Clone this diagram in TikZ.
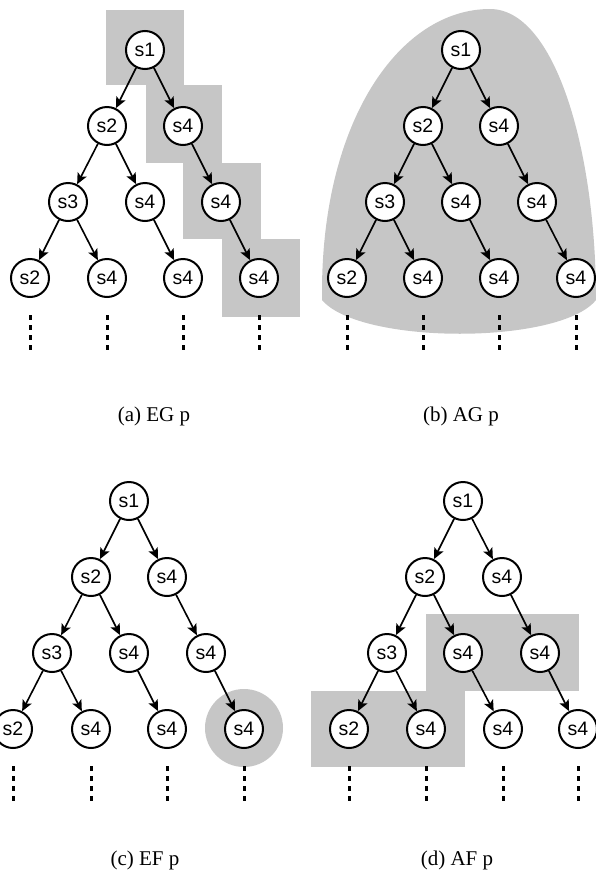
\documentclass[tikz,border=0pt]{standalone}
\usepackage{fontspec}
\setmainfont{Liberation Serif}
\newfontfamily\statefont{Liberation Sans}
\usepackage{tikz}
\usetikzlibrary{arrows.meta}
\definecolor{hilite}{HTML}{C6C6C6}

\begin{document}
\begin{tikzpicture}[x=1pt, y=-1pt, every node/.style={font=\statefont\fontsize{19.5}{19.5}\selectfont},
  state/.style={circle,draw,line width=2pt,fill=white,minimum size=38pt,inner sep=0pt},
  arr/.style={-{Stealth[length=11pt,width=10pt,inset=2.5pt]},line width=1.6pt},
  more/.style={line width=3pt,dash pattern=on 5pt off 5pt},
  region/.style={fill=hilite},
  caption/.style={font=\rmfamily\fontsize{21}{25}\selectfont,anchor=base}]
  \useasboundingbox (0,0) rectangle (596,873);
  % highlighted paths
  \fill[region] (106,10) rectangle (184,85);
  \fill[region] (146,85) rectangle (222,163);
  \fill[region] (183,163) rectangle (261,239);
  \fill[region] (222,239) rectangle (300,317);
  \fill[region] (322,292) .. controls (322,120) and (400,9) .. (490,9)
    .. controls (555,9) and (596,150) .. (596,300)
    .. controls (560,345) and (360,345) .. (322,300) -- cycle;
  \fill[region] (244,728) circle[radius=39pt];
  \fill[region] (426,614) rectangle (579,691);
  \fill[region] (311,691) rectangle (465,767);
  % (a)
  \node[state] (a1) at (145,50) {s1};
  \node[state] (a2) at (107,126) {s2};
  \node[state] (a3) at (183,126) {s4};
  \node[state] (a4) at (68,202) {s3};
  \node[state] (a5) at (145,202) {s4};
  \node[state] (a6) at (221,202) {s4};
  \node[state] (a7) at (30,278) {s2};
  \node[state] (a8) at (107,278) {s4};
  \node[state] (a9) at (183,278) {s4};
  \node[state] (a10) at (259,278) {s4};
  \draw[arr] (a1)--(a2); \draw[arr] (a1)--(a3);
  \draw[arr] (a2)--(a4); \draw[arr] (a2)--(a5); \draw[arr] (a3)--(a6);
  \draw[arr] (a4)--(a7); \draw[arr] (a4)--(a8);
  \draw[arr] (a5)--(a9); \draw[arr] (a6)--(a10);
  \draw[more] (a7.center) ++(0,37) -- ++(0,35);
  \draw[more] (a8.center) ++(0,37) -- ++(0,35);
  \draw[more] (a9.center) ++(0,37) -- ++(0,35);
  \draw[more] (a10.center) ++(0,37) -- ++(0,35);
  \node[caption] (capa) at (154,421) {(a) EG p};
  % (b)
  \node[state] (b1) at (461,50) {s1};
  \node[state] (b2) at (423,126) {s2};
  \node[state] (b3) at (499,126) {s4};
  \node[state] (b4) at (385,202) {s3};
  \node[state] (b5) at (461,202) {s4};
  \node[state] (b6) at (537,202) {s4};
  \node[state] (b7) at (347,278) {s2};
  \node[state] (b8) at (423,278) {s4};
  \node[state] (b9) at (499,278) {s4};
  \node[state] (b10) at (576,278) {s4};
  \draw[arr] (b1)--(b2); \draw[arr] (b1)--(b3);
  \draw[arr] (b2)--(b4); \draw[arr] (b2)--(b5); \draw[arr] (b3)--(b6);
  \draw[arr] (b4)--(b7); \draw[arr] (b4)--(b8);
  \draw[arr] (b5)--(b9); \draw[arr] (b6)--(b10);
  \draw[more] (b7.center) ++(0,37) -- ++(0,35);
  \draw[more] (b8.center) ++(0,37) -- ++(0,35);
  \draw[more] (b9.center) ++(0,37) -- ++(0,35);
  \draw[more] (b10.center) ++(0,37) -- ++(0,35);
  \node[caption] (capb) at (461,421) {(b) AG p};
  % (c)
  \node[state] (c1) at (129,501) {s1};
  \node[state] (c2) at (91,577) {s2};
  \node[state] (c3) at (167,577) {s4};
  \node[state] (c4) at (52,653) {s3};
  \node[state] (c5) at (129,653) {s4};
  \node[state] (c6) at (206,653) {s4};
  \node[state] (c7) at (13,729) {s2};
  \node[state] (c8) at (91,729) {s4};
  \node[state] (c9) at (167,729) {s4};
  \node[state] (c10) at (244,729) {s4};
  \draw[arr] (c1)--(c2); \draw[arr] (c1)--(c3);
  \draw[arr] (c2)--(c4); \draw[arr] (c2)--(c5); \draw[arr] (c3)--(c6);
  \draw[arr] (c4)--(c7); \draw[arr] (c4)--(c8);
  \draw[arr] (c5)--(c9); \draw[arr] (c6)--(c10);
  \draw[more] (c7.center) ++(0,37) -- ++(0,35);
  \draw[more] (c8.center) ++(0,37) -- ++(0,35);
  \draw[more] (c9.center) ++(0,37) -- ++(0,35);
  \draw[more] (c10.center) ++(0,37) -- ++(0,35);
  \node[caption] (capc) at (145,865) {(c) EF p};
  % (d)
  \node[state] (d1) at (463,501) {s1};
  \node[state] (d2) at (425,577) {s2};
  \node[state] (d3) at (502,577) {s4};
  \node[state] (d4) at (387,653) {s3};
  \node[state] (d5) at (463,653) {s4};
  \node[state] (d6) at (540,653) {s4};
  \node[state] (d7) at (349,729) {s2};
  \node[state] (d8) at (426,729) {s4};
  \node[state] (d9) at (503,729) {s4};
  \node[state] (d10) at (578,729) {s4};
  \draw[arr] (d1)--(d2); \draw[arr] (d1)--(d3);
  \draw[arr] (d2)--(d4); \draw[arr] (d2)--(d5); \draw[arr] (d3)--(d6);
  \draw[arr] (d4)--(d7); \draw[arr] (d4)--(d8);
  \draw[arr] (d5)--(d9); \draw[arr] (d6)--(d10);
  \draw[more] (d7.center) ++(0,37) -- ++(0,35);
  \draw[more] (d8.center) ++(0,37) -- ++(0,35);
  \draw[more] (d9.center) ++(0,37) -- ++(0,35);
  \draw[more] (d10.center) ++(0,37) -- ++(0,35);
  \node[caption] (capd) at (457,865) {(d) AF p};
\end{tikzpicture}
\end{document}
